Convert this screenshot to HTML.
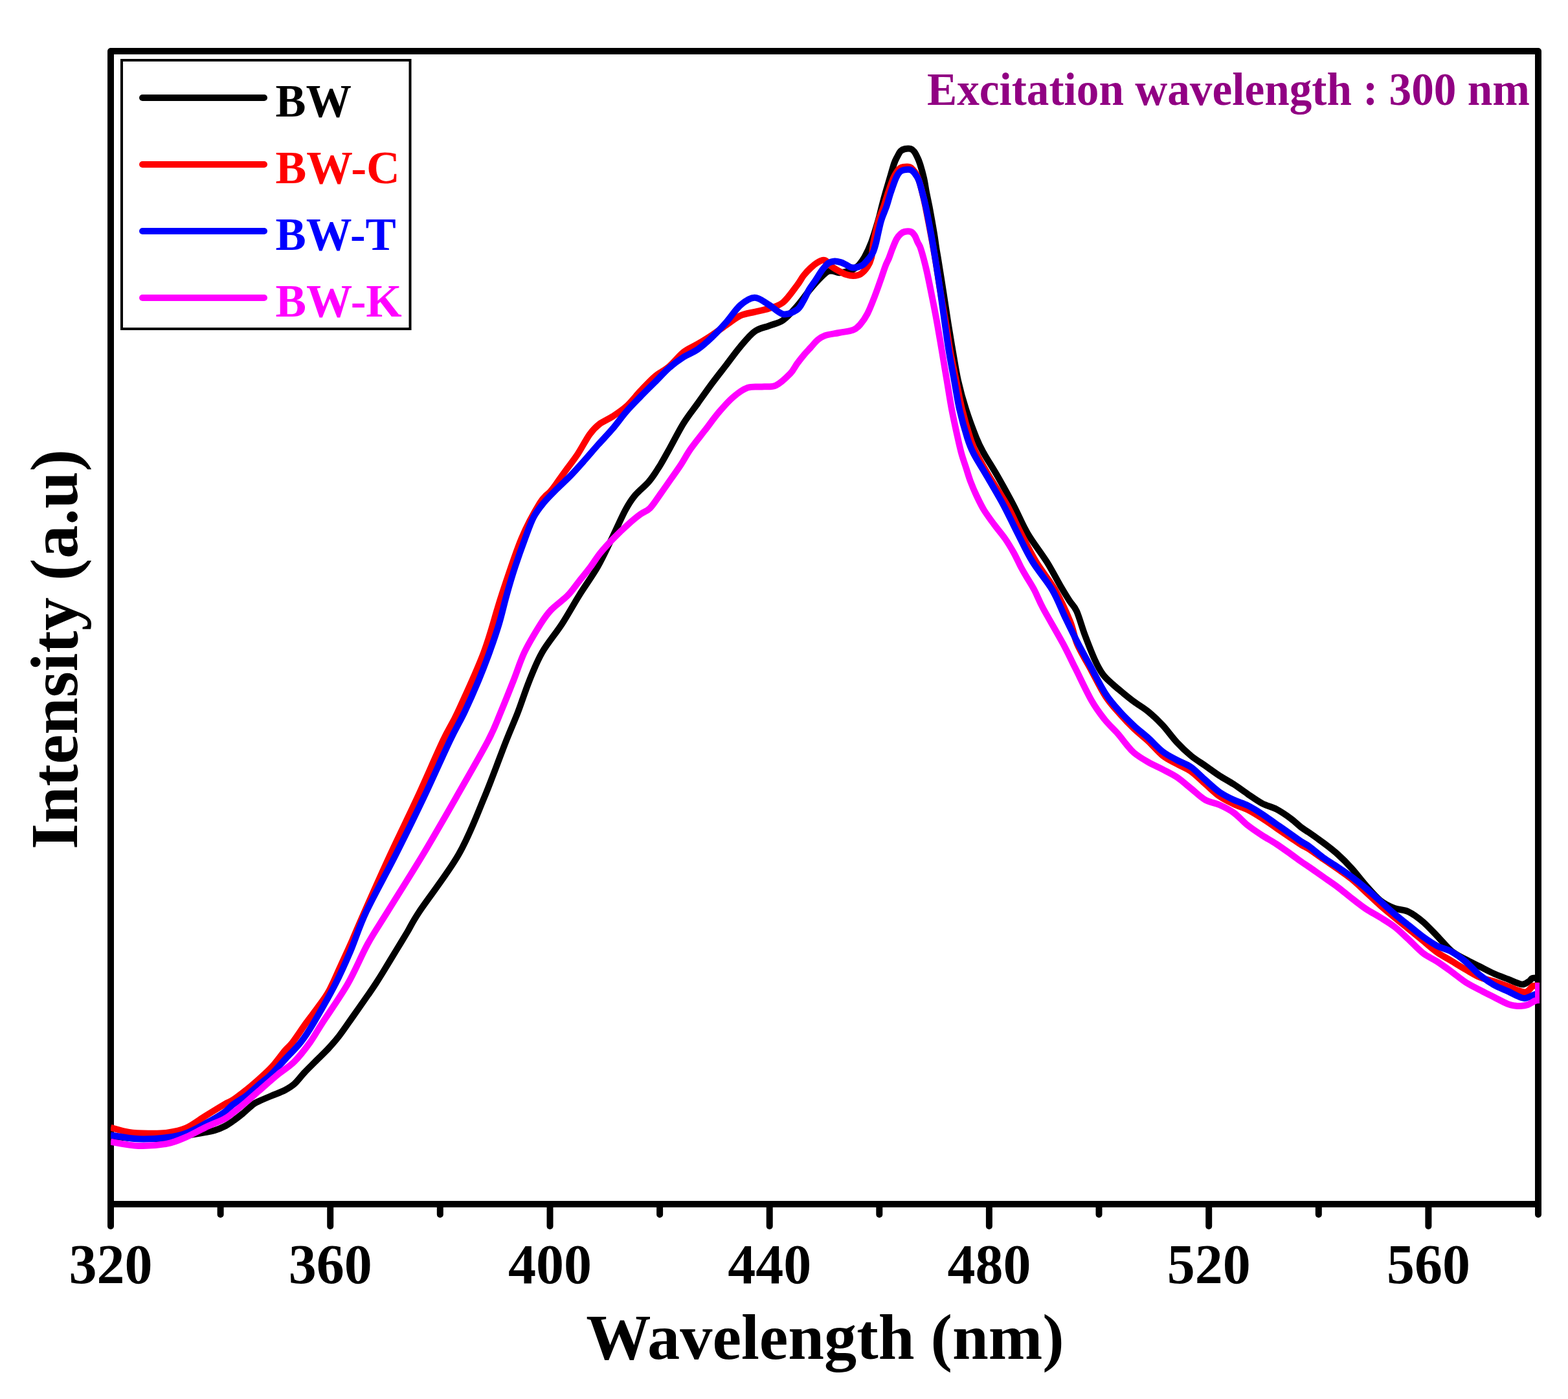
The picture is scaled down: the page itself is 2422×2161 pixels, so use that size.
<!DOCTYPE html>
<html><head><meta charset="utf-8"><style>
html,body{margin:0;padding:0;background:#fff;}
body{width:2422px;height:2161px;overflow:hidden;}
svg{display:block;}
text{font-family:"Liberation Serif","Times New Roman",serif;font-weight:bold;}
</style></head><body>
<svg xmlns="http://www.w3.org/2000/svg" width="2422" height="2161" viewBox="0 0 2422 2161">
<defs><clipPath id="pc"><rect x="171" y="60" width="2207" height="1805"/></clipPath></defs>
<rect width="2422" height="2161" fill="#fff"/>
<g stroke="#000" stroke-width="10" stroke-linecap="round"><line x1="171.0" y1="1860" x2="171.0" y2="1894"/><line x1="340.6" y1="1860" x2="340.6" y2="1876"/><line x1="510.2" y1="1860" x2="510.2" y2="1894"/><line x1="679.8" y1="1860" x2="679.8" y2="1876"/><line x1="849.5" y1="1860" x2="849.5" y2="1894"/><line x1="1019.1" y1="1860" x2="1019.1" y2="1876"/><line x1="1188.7" y1="1860" x2="1188.7" y2="1894"/><line x1="1358.3" y1="1860" x2="1358.3" y2="1876"/><line x1="1527.9" y1="1860" x2="1527.9" y2="1894"/><line x1="1697.5" y1="1860" x2="1697.5" y2="1876"/><line x1="1867.2" y1="1860" x2="1867.2" y2="1894"/><line x1="2036.8" y1="1860" x2="2036.8" y2="1876"/><line x1="2206.4" y1="1860" x2="2206.4" y2="1894"/><line x1="2376.0" y1="1860" x2="2376.0" y2="1876"/></g>
<rect x="171" y="79" width="2205" height="1781" fill="none" stroke="#000" stroke-width="10" stroke-linejoin="round"/>
<g fill="none" stroke-width="10" stroke-linecap="butt" stroke-linejoin="round" clip-path="url(#pc)">
<path d="M171.0,1755.0C175.8,1755.5 189.2,1757.3 200.0,1758.0C210.8,1758.7 224.3,1759.2 236.0,1759.0C247.7,1758.8 259.3,1758.2 270.0,1757.0C280.7,1755.8 292.2,1753.3 300.0,1752.0C307.8,1750.7 311.7,1750.0 317.0,1749.0C322.3,1748.0 326.9,1747.5 331.8,1746.0C336.7,1744.5 341.8,1742.4 346.5,1740.0C351.2,1737.6 355.2,1734.8 360.0,1731.5C364.8,1728.2 369.8,1724.2 375.0,1720.0C380.2,1715.8 386.8,1709.2 391.0,1706.0C395.2,1702.8 395.2,1703.3 400.0,1701.0C404.8,1698.7 413.3,1695.2 420.0,1692.4C426.7,1689.6 434.2,1687.1 440.0,1684.0C445.8,1680.9 450.0,1678.5 455.0,1674.0C460.0,1669.5 464.7,1662.7 470.0,1657.0C475.3,1651.3 480.7,1646.2 486.8,1640.0C492.9,1633.8 500.7,1626.7 506.9,1620.0C513.1,1613.3 517.6,1608.3 524.0,1600.0C530.4,1591.7 537.9,1580.5 545.3,1570.0C552.7,1559.5 562.6,1545.3 568.4,1537.0C574.2,1528.7 576.0,1526.2 580.0,1520.0C584.0,1513.8 587.3,1508.7 592.6,1500.0C597.9,1491.3 605.9,1478.0 612.0,1468.0C618.1,1458.0 623.0,1450.0 629.0,1440.0C635.0,1430.0 634.8,1427.7 648.0,1407.7C661.2,1387.7 691.8,1349.1 708.5,1319.8C725.2,1290.5 735.8,1261.2 748.0,1231.9C760.2,1202.6 773.3,1166.0 782.0,1144.0C790.7,1122.0 794.1,1115.4 800.0,1100.0C805.9,1084.6 811.4,1067.0 817.6,1051.6C823.8,1036.2 829.0,1022.4 837.4,1007.7C845.8,993.1 858.6,978.4 868.1,963.7C877.6,949.1 885.4,934.4 894.5,919.8C903.6,905.1 914.6,890.4 923.0,875.8C931.4,861.1 937.8,846.5 945.0,831.9C952.2,817.2 960.1,798.9 966.0,787.9C971.9,776.9 974.2,773.3 980.2,766.0C986.2,758.7 996.0,751.3 1002.2,744.0C1008.4,736.7 1012.6,729.8 1017.6,722.0C1022.6,714.2 1025.6,708.4 1032.0,697.0C1038.4,685.6 1048.2,666.1 1055.8,653.8C1063.4,641.5 1070.5,633.2 1077.8,623.0C1085.1,612.8 1092.5,602.2 1099.8,592.3C1107.1,582.4 1114.5,573.2 1121.8,563.7C1129.1,554.2 1136.4,543.8 1143.7,535.2C1151.0,526.6 1158.4,517.3 1165.7,512.0C1173.0,506.7 1180.4,506.2 1187.7,503.3C1195.0,500.4 1202.5,499.6 1209.7,494.5C1216.9,489.4 1223.8,481.2 1231.0,473.0C1238.2,464.8 1245.7,453.5 1253.0,445.0C1260.3,436.5 1269.7,426.4 1275.0,422.0C1280.3,417.6 1281.5,418.6 1285.0,418.5C1288.5,418.4 1292.3,421.1 1296.0,421.3C1299.7,421.5 1303.3,420.5 1307.0,419.6C1310.7,418.7 1314.7,417.8 1318.0,416.0C1321.3,414.2 1324.1,412.2 1327.0,409.0C1329.9,405.8 1332.3,402.8 1335.5,397.0C1338.7,391.2 1342.5,383.3 1346.0,374.0C1349.5,364.7 1353.7,350.2 1356.4,341.0C1359.1,331.8 1360.1,326.3 1362.0,319.0C1363.9,311.7 1365.9,304.3 1368.0,297.0C1370.1,289.7 1372.3,282.3 1374.5,275.0C1376.7,267.7 1379.1,258.5 1381.0,253.0C1382.9,247.5 1384.3,245.2 1386.0,242.0C1387.7,238.8 1389.0,235.5 1391.0,233.5C1393.0,231.5 1395.3,230.6 1398.0,230.0C1400.7,229.4 1404.7,229.3 1407.0,230.0C1409.3,230.7 1410.3,231.8 1412.0,234.0C1413.7,236.2 1415.5,239.8 1417.0,243.0C1418.5,246.2 1419.3,247.7 1421.0,253.0C1422.7,258.3 1425.3,267.7 1427.0,275.0C1428.7,282.3 1429.6,289.7 1431.0,297.0C1432.4,304.3 1434.1,311.7 1435.5,319.0C1436.9,326.3 1438.2,333.7 1439.5,341.0C1440.8,348.3 1442.1,355.7 1443.3,363.0C1444.5,370.3 1445.4,378.2 1446.5,385.0C1447.6,391.8 1448.0,393.2 1449.7,404.0C1451.5,414.8 1454.5,434.2 1457.0,450.0C1459.5,465.8 1462.0,483.3 1464.5,499.0C1467.0,514.7 1469.4,529.2 1472.0,544.0C1474.6,558.8 1476.7,573.3 1480.0,588.0C1483.3,602.7 1487.3,617.3 1492.0,632.0C1496.7,646.7 1503.5,664.8 1508.0,676.0C1512.5,687.2 1513.5,689.0 1519.0,699.0C1524.5,709.0 1533.3,722.3 1541.0,735.8C1548.7,749.3 1557.5,765.1 1565.2,779.8C1572.9,794.4 1578.5,809.1 1587.1,823.7C1595.7,838.4 1608.3,854.2 1616.8,867.7C1625.3,881.2 1632.1,895.0 1638.0,905.0C1643.9,915.0 1647.8,921.5 1652.0,928.0C1656.2,934.5 1659.0,935.2 1663.0,944.0C1667.0,952.8 1671.1,968.5 1675.8,981.0C1680.5,993.5 1686.4,1008.9 1691.0,1019.0C1695.6,1029.1 1699.0,1035.4 1703.6,1041.7C1708.2,1048.0 1713.9,1052.5 1718.8,1057.0C1723.7,1061.5 1727.5,1064.5 1733.0,1069.0C1738.5,1073.5 1745.1,1079.0 1751.9,1084.0C1758.7,1089.0 1766.5,1093.3 1773.8,1099.3C1781.1,1105.3 1788.5,1112.3 1795.8,1120.2C1803.1,1128.1 1810.5,1138.7 1817.8,1146.6C1825.1,1154.5 1832.5,1161.5 1839.8,1167.5C1847.1,1173.5 1854.5,1177.8 1861.8,1182.9C1869.1,1188.0 1876.4,1193.5 1883.7,1198.2C1891.0,1203.0 1898.4,1206.6 1905.7,1211.4C1913.0,1216.2 1920.4,1221.8 1927.7,1226.8C1935.0,1231.8 1942.4,1237.2 1949.7,1241.1C1957.0,1244.9 1964.3,1246.1 1971.6,1249.9C1978.9,1253.8 1987.2,1259.5 1993.6,1264.2C2000.0,1268.9 2005.3,1274.4 2010.0,1278.0C2014.7,1281.6 2016.3,1282.0 2022.0,1286.0C2027.7,1290.0 2036.7,1296.2 2044.0,1301.8C2051.3,1307.3 2058.6,1312.7 2065.9,1319.3C2073.2,1325.9 2080.6,1333.2 2087.9,1341.3C2095.2,1349.4 2102.6,1359.5 2109.9,1367.7C2117.2,1376.0 2124.6,1384.9 2131.9,1390.8C2139.2,1396.7 2146.5,1400.0 2153.8,1402.9C2161.1,1405.8 2168.5,1404.9 2175.8,1408.4C2183.1,1411.9 2190.5,1417.5 2197.8,1423.7C2205.1,1429.9 2212.5,1438.2 2219.8,1445.7C2227.1,1453.2 2234.5,1462.8 2241.8,1468.8C2249.1,1474.8 2256.4,1478.0 2263.7,1482.0C2271.0,1486.0 2278.4,1489.3 2285.7,1493.0C2293.0,1496.7 2300.4,1500.7 2307.7,1504.0C2315.0,1507.3 2323.6,1510.3 2329.7,1512.7C2335.8,1515.1 2340.1,1517.2 2344.0,1518.5C2347.9,1519.8 2349.9,1521.0 2353.0,1520.5C2356.1,1520.0 2360.0,1517.1 2362.3,1515.5C2364.6,1513.9 2364.4,1511.8 2367.0,1511.0C2369.6,1510.2 2376.2,1510.6 2378.0,1510.5" stroke="#000000"/>
<path d="M171.0,1741.8C175.7,1743.0 189.8,1747.5 199.4,1749.0C209.0,1750.5 219.0,1750.6 228.8,1750.7C238.6,1750.8 248.4,1751.1 258.2,1749.7C268.0,1748.3 277.8,1746.7 287.6,1742.4C297.4,1738.1 307.2,1730.1 317.0,1724.0C326.8,1717.9 339.3,1710.2 346.5,1706.0C353.7,1701.8 354.4,1702.7 360.0,1699.0C365.6,1695.3 373.3,1689.3 380.0,1684.0C386.7,1678.7 393.3,1673.0 400.0,1667.0C406.7,1661.0 413.3,1655.3 420.0,1648.0C426.7,1640.7 434.7,1629.3 440.0,1623.0C445.3,1616.7 446.5,1617.2 452.0,1610.0C457.5,1602.8 466.5,1589.0 473.0,1580.0C479.5,1571.0 485.2,1564.2 491.0,1556.0C496.8,1547.8 502.2,1541.6 508.0,1531.0C513.8,1520.4 520.0,1505.3 526.0,1492.3C532.0,1479.2 538.2,1465.9 544.0,1452.7C549.8,1439.5 551.2,1435.4 561.0,1413.2C570.8,1391.0 589.0,1350.0 603.0,1319.8C617.0,1289.6 631.2,1261.2 644.7,1231.9C658.2,1202.6 673.9,1166.0 684.3,1144.0C694.7,1122.0 696.5,1122.7 707.0,1100.0C717.5,1077.3 736.0,1037.7 747.3,1007.7C758.6,977.7 765.0,949.1 774.7,919.8C784.4,890.5 795.6,855.7 805.5,831.9C815.4,808.1 826.5,789.1 834.0,776.9C841.5,764.7 846.0,764.3 850.8,758.5C855.6,752.7 858.9,747.6 863.0,742.0C867.1,736.4 870.5,731.4 875.4,724.6C880.3,717.9 886.4,710.4 892.3,701.5C898.2,692.6 905.2,678.8 910.8,671.0C916.4,663.2 920.1,659.6 926.0,655.0C931.9,650.4 939.0,648.1 946.0,643.5C953.0,638.9 960.6,634.2 967.9,627.5C975.2,620.8 982.6,611.0 989.9,603.3C997.2,595.6 1004.6,587.5 1011.9,581.3C1019.2,575.1 1026.5,572.2 1033.8,566.0C1041.1,559.8 1048.5,549.8 1055.8,544.0C1063.1,538.2 1070.5,535.8 1077.8,531.4C1085.1,527.0 1092.5,522.5 1099.8,517.6C1107.1,512.7 1114.5,507.2 1121.8,502.2C1129.1,497.2 1136.4,490.9 1143.7,487.5C1151.0,484.1 1158.4,483.6 1165.7,481.8C1173.0,480.0 1180.4,479.0 1187.7,476.5C1195.0,474.0 1202.5,472.9 1209.7,467.0C1216.9,461.1 1225.8,447.8 1231.0,441.0C1236.2,434.2 1237.5,430.5 1241.0,426.0C1244.5,421.5 1248.3,417.4 1252.0,414.0C1255.7,410.6 1259.3,407.3 1263.0,405.3C1266.7,403.3 1270.3,400.9 1274.0,402.0C1277.7,403.1 1281.3,409.2 1285.0,412.0C1288.7,414.8 1292.3,416.6 1296.0,418.6C1299.7,420.6 1303.3,422.8 1307.0,424.0C1310.7,425.2 1314.3,426.1 1318.0,426.0C1321.7,425.9 1325.3,425.8 1329.0,423.5C1332.7,421.2 1337.2,416.2 1340.0,412.0C1342.8,407.8 1344.4,404.3 1346.0,398.0C1347.6,391.7 1347.6,383.5 1349.4,374.0C1351.2,364.5 1354.4,350.2 1357.0,341.0C1359.6,331.8 1362.5,326.3 1365.0,319.0C1367.5,311.7 1369.5,304.3 1372.0,297.0C1374.5,289.7 1377.8,280.3 1380.0,275.0C1382.2,269.7 1383.8,267.5 1385.5,265.0C1387.2,262.5 1388.4,261.2 1390.0,260.0C1391.6,258.8 1392.5,258.3 1395.0,258.0C1397.5,257.7 1402.4,257.2 1405.0,258.0C1407.6,258.8 1408.8,260.8 1410.5,262.5C1412.2,264.2 1413.5,265.8 1415.0,268.5C1416.5,271.2 1418.0,274.6 1419.5,279.0C1421.0,283.4 1422.3,288.3 1424.0,295.0C1425.7,301.7 1427.2,307.7 1429.5,319.0C1431.8,330.3 1435.3,348.7 1438.0,363.0C1440.7,377.3 1443.1,390.5 1445.5,405.0C1447.9,419.5 1449.9,434.3 1452.5,450.0C1455.1,465.7 1458.4,483.3 1461.0,499.0C1463.6,514.7 1465.3,529.2 1468.0,544.0C1470.7,558.8 1474.0,573.3 1477.0,588.0C1480.0,602.7 1482.4,617.3 1486.0,632.0C1489.6,646.7 1494.8,664.7 1498.5,676.0C1502.2,687.3 1503.1,690.0 1508.0,700.0C1512.9,710.0 1520.1,722.5 1528.0,735.8C1535.9,749.1 1547.1,765.1 1555.3,779.8C1563.5,794.4 1569.5,809.1 1577.0,823.7C1584.5,838.4 1591.5,853.1 1600.3,867.7C1609.1,882.4 1621.2,896.2 1630.0,911.6C1638.8,927.0 1647.3,946.1 1653.0,960.0C1658.7,973.9 1658.5,982.3 1664.0,995.0C1669.5,1007.7 1678.7,1022.5 1686.0,1036.0C1693.3,1049.5 1700.6,1064.8 1707.9,1076.0C1715.2,1087.2 1722.6,1094.7 1729.9,1103.0C1737.2,1111.3 1744.6,1119.0 1751.9,1126.0C1759.2,1133.0 1766.5,1138.2 1773.8,1145.0C1781.1,1151.8 1788.5,1161.2 1795.8,1167.0C1803.1,1172.8 1810.5,1175.9 1817.8,1180.0C1825.1,1184.1 1832.5,1186.4 1839.8,1191.6C1847.1,1196.8 1854.5,1204.6 1861.8,1211.0C1869.1,1217.4 1876.4,1224.8 1883.7,1230.0C1891.0,1235.2 1898.4,1238.5 1905.7,1242.0C1913.0,1245.5 1920.4,1247.3 1927.7,1251.0C1935.0,1254.7 1942.4,1259.3 1949.7,1264.0C1957.0,1268.7 1964.3,1274.0 1971.6,1279.0C1978.9,1284.0 1987.2,1289.7 1993.6,1294.0C2000.0,1298.3 2005.3,1302.1 2010.0,1305.0C2014.7,1307.9 2016.3,1307.9 2022.0,1311.6C2027.7,1315.3 2036.7,1321.9 2044.0,1327.0C2051.3,1332.1 2058.6,1336.8 2065.9,1342.0C2073.2,1347.2 2080.6,1352.0 2087.9,1358.0C2095.2,1364.0 2102.6,1371.2 2109.9,1378.0C2117.2,1384.8 2124.6,1392.0 2131.9,1398.5C2139.2,1405.0 2146.5,1410.9 2153.8,1417.0C2161.1,1423.1 2168.5,1429.0 2175.8,1435.0C2183.1,1441.0 2190.5,1447.0 2197.8,1453.0C2205.1,1459.0 2212.5,1465.8 2219.8,1471.0C2227.1,1476.2 2234.5,1479.8 2241.8,1484.2C2249.1,1488.6 2256.4,1493.2 2263.7,1497.4C2271.0,1501.6 2278.4,1506.4 2285.7,1509.5C2293.0,1512.6 2300.4,1513.6 2307.7,1516.0C2315.0,1518.4 2323.5,1521.4 2329.7,1523.7C2335.9,1526.0 2340.5,1528.5 2345.0,1530.0C2349.5,1531.5 2353.5,1532.8 2356.5,1532.5C2359.5,1532.2 2361.1,1529.6 2363.0,1528.0C2364.9,1526.4 2365.5,1523.9 2368.0,1523.0C2370.5,1522.1 2376.3,1522.6 2378.0,1522.5" stroke="#ff0000"/>
<path d="M171.0,1753.4C178.2,1754.4 199.5,1758.7 214.0,1759.3C228.5,1759.9 245.7,1758.5 258.0,1757.0C270.3,1755.5 277.8,1754.0 287.6,1750.4C297.4,1746.9 307.2,1741.1 317.0,1735.7C326.8,1730.3 339.3,1723.0 346.5,1718.0C353.7,1713.0 354.4,1710.2 360.0,1706.0C365.6,1701.8 373.3,1698.1 380.0,1693.0C386.7,1687.9 393.6,1681.0 400.0,1675.5C406.4,1670.0 411.6,1666.8 418.5,1660.0C425.4,1653.2 433.8,1643.3 441.5,1635.0C449.2,1626.7 457.4,1619.2 464.6,1610.0C471.8,1600.8 475.6,1595.0 484.5,1580.0C493.4,1565.0 508.6,1538.3 518.0,1520.0C527.4,1501.7 533.0,1488.7 541.0,1470.0C549.0,1451.3 554.2,1432.7 566.0,1407.7C577.8,1382.7 596.8,1349.1 611.5,1319.8C626.2,1290.5 640.6,1261.2 654.5,1231.9C668.4,1202.6 684.5,1166.0 695.0,1144.0C705.5,1122.0 710.2,1115.4 717.5,1100.0C724.8,1084.6 732.6,1067.0 739.0,1051.6C745.4,1036.2 750.7,1022.4 756.0,1007.7C761.3,993.1 766.4,978.4 770.8,963.7C775.2,949.1 778.3,934.4 782.4,919.8C786.5,905.1 790.8,890.4 795.6,875.8C800.4,861.1 806.2,844.7 811.0,831.9C815.8,819.1 819.4,808.1 824.2,798.9C829.0,789.7 833.6,784.2 839.6,776.9C845.6,769.6 853.3,762.1 860.4,755.0C867.5,747.9 875.1,741.2 882.0,734.0C888.9,726.8 895.0,719.9 902.0,712.0C909.0,704.1 916.7,695.0 924.0,686.8C931.3,678.6 938.7,671.2 946.0,662.6C953.3,654.0 960.6,643.6 967.9,635.2C975.2,626.8 982.6,619.5 989.9,612.0C997.2,604.5 1004.6,597.3 1011.9,590.0C1019.2,582.7 1026.5,574.4 1033.8,568.0C1041.1,561.6 1048.5,556.3 1055.8,551.6C1063.1,546.9 1070.5,544.7 1077.8,539.6C1085.1,534.5 1092.5,527.9 1099.8,520.9C1107.1,513.9 1114.5,506.1 1121.8,497.8C1129.1,489.6 1136.4,477.7 1143.7,471.4C1151.0,465.1 1158.4,459.9 1165.7,459.8C1173.0,459.7 1180.4,466.6 1187.7,470.8C1195.0,475.1 1202.5,484.0 1209.7,485.3C1216.9,486.6 1225.8,481.9 1231.0,478.5C1236.2,475.1 1237.8,469.9 1241.0,464.6C1244.2,459.4 1246.9,452.3 1250.0,447.0C1253.1,441.7 1256.5,437.7 1259.8,432.7C1263.1,427.7 1266.7,421.4 1270.0,417.0C1273.3,412.6 1276.4,408.7 1279.6,406.4C1282.8,404.1 1286.1,403.6 1289.4,403.4C1292.7,403.2 1296.4,404.5 1299.3,405.4C1302.2,406.3 1304.2,407.7 1307.0,409.0C1309.8,410.3 1312.7,412.8 1315.8,413.3C1318.9,413.9 1322.8,413.0 1325.7,412.3C1328.6,411.6 1330.8,410.6 1333.0,409.0C1335.2,407.4 1337.1,405.0 1338.9,403.0C1340.7,401.0 1342.3,399.3 1344.0,397.0C1345.7,394.7 1347.2,392.8 1348.8,389.0C1350.4,385.2 1351.4,382.0 1353.4,374.0C1355.4,366.0 1358.3,350.2 1361.0,341.0C1363.7,331.8 1366.8,326.3 1369.3,319.0C1371.8,311.7 1373.5,304.3 1376.0,297.0C1378.5,289.7 1381.7,280.2 1384.0,275.0C1386.3,269.8 1387.8,267.6 1390.0,265.5C1392.2,263.4 1394.2,262.9 1397.0,262.4C1399.8,261.9 1404.3,261.5 1407.0,262.4C1409.7,263.3 1411.0,265.4 1413.0,268.0C1415.0,270.6 1417.2,273.5 1419.0,278.0C1420.8,282.5 1422.2,288.2 1424.0,295.0C1425.8,301.8 1427.6,307.7 1430.0,319.0C1432.4,330.3 1435.9,348.7 1438.5,363.0C1441.1,377.3 1443.2,390.5 1445.5,405.0C1447.8,419.5 1450.2,434.2 1452.5,450.0C1454.8,465.8 1457.2,484.3 1459.5,500.0C1461.8,515.7 1463.6,529.3 1466.0,544.0C1468.4,558.7 1471.3,573.3 1474.0,588.0C1476.7,602.7 1478.7,617.3 1482.0,632.0C1485.3,646.7 1490.4,664.7 1494.0,676.0C1497.6,687.3 1498.4,690.0 1503.5,700.0C1508.6,710.0 1516.8,722.5 1524.5,735.8C1532.2,749.1 1541.9,765.1 1549.8,779.8C1557.7,794.4 1564.3,809.1 1571.8,823.7C1579.3,838.4 1585.8,853.1 1594.8,867.7C1603.8,882.4 1617.2,897.4 1625.6,911.6C1634.0,925.8 1638.6,939.7 1645.0,953.0C1651.4,966.3 1657.2,978.4 1664.0,991.6C1670.8,1004.8 1678.7,1018.9 1686.0,1032.3C1693.3,1045.7 1700.6,1060.7 1707.9,1071.9C1715.2,1083.1 1722.6,1091.1 1729.9,1099.3C1737.2,1107.5 1744.6,1114.5 1751.9,1121.3C1759.2,1128.1 1766.5,1133.4 1773.8,1140.0C1781.1,1146.6 1788.5,1155.2 1795.8,1160.9C1803.1,1166.6 1810.5,1170.0 1817.8,1174.0C1825.1,1178.0 1832.5,1179.9 1839.8,1185.0C1847.1,1190.1 1854.5,1198.4 1861.8,1204.8C1869.1,1211.2 1876.4,1218.4 1883.7,1223.5C1891.0,1228.6 1898.4,1232.1 1905.7,1235.6C1913.0,1239.1 1920.4,1240.7 1927.7,1244.4C1935.0,1248.1 1942.4,1252.8 1949.7,1257.6C1957.0,1262.4 1964.3,1267.9 1971.6,1273.0C1978.9,1278.1 1987.2,1283.9 1993.6,1288.4C2000.0,1292.9 2005.3,1296.8 2010.0,1300.0C2014.7,1303.2 2016.3,1303.2 2022.0,1307.3C2027.7,1311.4 2036.7,1319.5 2044.0,1324.8C2051.3,1330.1 2058.6,1334.1 2065.9,1339.1C2073.2,1344.0 2080.6,1349.0 2087.9,1354.5C2095.2,1360.0 2102.6,1365.9 2109.9,1372.1C2117.2,1378.3 2124.6,1385.3 2131.9,1391.9C2139.2,1398.5 2146.5,1405.4 2153.8,1411.6C2161.1,1417.8 2168.5,1423.3 2175.8,1429.2C2183.1,1435.1 2190.5,1441.5 2197.8,1446.8C2205.1,1452.1 2212.5,1457.2 2219.8,1461.1C2227.1,1464.9 2234.5,1465.9 2241.8,1469.9C2249.1,1473.9 2256.4,1479.2 2263.7,1485.3C2271.0,1491.3 2278.4,1500.2 2285.7,1506.2C2293.0,1512.2 2300.4,1517.3 2307.7,1521.5C2315.0,1525.7 2323.5,1528.5 2329.7,1531.4C2335.9,1534.3 2340.8,1537.2 2345.0,1539.0C2349.2,1540.8 2351.8,1541.8 2354.6,1542.0C2357.4,1542.2 2359.3,1541.0 2362.0,1540.0C2364.7,1539.0 2368.3,1536.8 2371.0,1536.0C2373.7,1535.2 2376.8,1535.6 2378.0,1535.5" stroke="#0000ff"/>
<path d="M171.0,1763.7C178.2,1764.8 199.5,1769.5 214.0,1770.0C228.5,1770.5 245.7,1768.9 258.0,1766.6C270.3,1764.3 277.8,1760.5 287.6,1756.3C297.4,1752.1 307.2,1746.2 317.0,1741.6C326.8,1736.9 339.3,1732.2 346.5,1728.4C353.7,1724.6 354.4,1723.1 360.0,1718.8C365.6,1714.5 373.3,1708.1 380.0,1702.5C386.7,1696.9 391.8,1692.1 400.0,1685.0C408.2,1677.9 419.9,1667.5 429.0,1660.0C438.1,1652.5 446.2,1648.3 454.5,1640.0C462.8,1631.7 471.8,1620.0 479.0,1610.0C486.2,1600.0 488.3,1595.0 498.0,1580.0C507.7,1565.0 525.3,1540.3 537.0,1520.0C548.7,1499.7 557.7,1476.7 568.0,1458.0C578.3,1439.3 584.8,1430.7 599.0,1407.7C613.2,1384.7 635.9,1349.1 653.5,1319.8C671.1,1290.5 687.8,1261.2 704.5,1231.9C721.2,1202.6 742.5,1166.0 754.0,1144.0C765.5,1122.0 767.0,1115.4 773.5,1100.0C780.0,1084.6 786.9,1067.0 793.0,1051.6C799.1,1036.2 803.0,1022.4 810.0,1007.7C817.0,993.1 828.3,974.7 835.2,963.7C842.1,952.7 844.7,949.1 851.6,941.8C858.5,934.5 869.8,927.1 876.9,919.8C884.0,912.5 888.6,905.1 894.5,897.8C900.4,890.5 906.5,883.1 912.0,875.8C917.5,868.5 921.6,861.1 927.5,853.8C933.4,846.5 940.2,839.2 947.3,831.9C954.4,824.6 963.3,816.1 970.3,809.9C977.2,803.7 983.4,798.6 989.0,794.5C994.6,790.4 998.7,790.4 1004.0,785.0C1009.3,779.6 1015.5,769.5 1020.9,762.0C1026.3,754.5 1031.2,747.3 1036.3,740.0C1041.4,732.7 1046.5,725.8 1051.6,718.0C1056.7,710.2 1060.6,702.3 1066.8,693.4C1073.0,684.5 1081.5,674.3 1088.8,664.8C1096.1,655.3 1103.5,644.9 1110.8,636.3C1118.1,627.7 1125.4,619.4 1132.7,613.2C1140.0,607.0 1147.4,601.5 1154.7,598.9C1162.0,596.3 1169.4,598.0 1176.7,597.4C1184.0,596.8 1191.4,598.6 1198.7,595.2C1206.0,591.8 1215.3,582.5 1220.7,577.0C1226.1,571.5 1227.5,566.8 1231.0,562.0C1234.5,557.2 1238.5,552.2 1242.0,548.0C1245.5,543.8 1248.5,540.8 1252.0,537.0C1255.5,533.2 1259.3,528.1 1263.0,525.0C1266.7,521.9 1268.5,520.3 1274.0,518.5C1279.5,516.7 1288.7,515.5 1296.0,514.0C1303.3,512.5 1312.5,511.9 1318.0,509.7C1323.5,507.5 1325.3,505.1 1329.0,500.9C1332.7,496.7 1336.3,491.5 1340.0,484.4C1343.7,477.2 1347.3,467.5 1351.0,458.0C1354.7,448.5 1359.2,435.3 1362.0,427.3C1364.8,419.3 1366.2,414.7 1368.0,410.0C1369.8,405.3 1371.2,403.3 1373.0,399.0C1374.8,394.7 1376.5,389.0 1378.5,384.0C1380.5,379.0 1382.9,372.8 1385.0,369.0C1387.1,365.2 1389.0,363.3 1391.0,361.5C1393.0,359.7 1394.3,358.6 1397.0,358.0C1399.7,357.4 1404.3,357.0 1407.0,358.0C1409.7,359.0 1411.2,361.2 1413.0,364.0C1414.8,366.8 1416.0,371.0 1417.6,374.5C1419.2,378.0 1420.2,377.8 1422.5,385.0C1424.8,392.2 1428.4,405.5 1431.3,418.0C1434.2,430.5 1437.3,446.5 1440.0,460.0C1442.7,473.5 1445.0,485.0 1447.5,499.0C1450.0,513.0 1452.7,529.2 1455.2,544.0C1457.7,558.8 1460.1,573.3 1462.6,588.0C1465.1,602.7 1467.2,617.3 1470.0,632.0C1472.8,646.7 1476.8,664.7 1479.3,676.0C1481.8,687.3 1482.9,692.3 1485.0,700.0C1487.1,707.7 1489.6,714.7 1492.0,722.0C1494.4,729.3 1496.4,736.7 1499.2,744.0C1502.0,751.3 1505.1,758.7 1508.6,766.0C1512.1,773.3 1515.5,780.7 1520.0,788.0C1524.5,795.3 1530.1,802.7 1535.5,810.0C1540.9,817.3 1547.4,824.7 1552.5,832.0C1557.6,839.3 1561.9,846.7 1566.0,854.0C1570.1,861.3 1573.8,870.0 1577.0,876.0C1580.2,882.0 1581.5,884.0 1585.0,890.0C1588.5,896.0 1593.6,903.7 1598.0,912.0C1602.4,920.3 1604.1,926.4 1611.4,940.0C1618.7,953.6 1633.5,978.4 1641.7,993.7C1649.9,1009.0 1653.3,1016.9 1660.7,1031.6C1668.1,1046.3 1678.5,1068.8 1686.0,1082.0C1693.5,1095.2 1699.3,1102.5 1706.0,1111.0C1712.7,1119.5 1720.7,1126.5 1726.4,1133.0C1732.1,1139.5 1735.8,1145.0 1740.0,1150.0C1744.2,1155.0 1746.3,1158.4 1751.9,1163.0C1757.5,1167.6 1766.5,1173.2 1773.8,1177.4C1781.1,1181.6 1788.5,1184.6 1795.8,1188.4C1803.1,1192.2 1810.5,1195.5 1817.8,1200.4C1825.1,1205.3 1832.5,1212.1 1839.8,1218.0C1847.1,1223.9 1854.5,1231.4 1861.8,1235.6C1869.1,1239.8 1876.4,1240.0 1883.7,1243.3C1891.0,1246.6 1898.4,1250.1 1905.7,1255.4C1913.0,1260.7 1920.4,1269.4 1927.7,1275.2C1935.0,1281.0 1942.4,1285.8 1949.7,1290.5C1957.0,1295.2 1964.3,1298.9 1971.6,1303.7C1978.9,1308.5 1987.2,1314.5 1993.6,1319.1C2000.0,1323.6 2005.3,1327.7 2010.0,1331.0C2014.7,1334.3 2016.3,1335.2 2022.0,1339.1C2027.7,1343.0 2036.7,1349.4 2044.0,1354.5C2051.3,1359.6 2058.6,1364.4 2065.9,1369.9C2073.2,1375.4 2080.6,1381.8 2087.9,1387.5C2095.2,1393.2 2102.6,1399.1 2109.9,1404.0C2117.2,1408.9 2124.6,1412.5 2131.9,1417.1C2139.2,1421.7 2146.5,1425.7 2153.8,1431.4C2161.1,1437.1 2168.5,1444.4 2175.8,1451.2C2183.1,1458.0 2190.5,1466.4 2197.8,1472.1C2205.1,1477.8 2212.5,1480.5 2219.8,1485.3C2227.1,1490.1 2234.5,1495.4 2241.8,1500.7C2249.1,1506.0 2256.4,1512.3 2263.7,1517.1C2271.0,1521.8 2278.4,1525.3 2285.7,1529.2C2293.0,1533.1 2300.4,1536.5 2307.7,1540.2C2315.0,1543.9 2324.3,1549.0 2329.7,1551.2C2335.1,1553.4 2336.8,1553.0 2340.0,1553.5C2343.2,1554.0 2345.7,1554.2 2349.0,1554.0C2352.3,1553.8 2356.3,1553.3 2360.0,1552.0C2363.7,1550.7 2368.0,1547.2 2371.0,1546.0C2374.0,1544.8 2376.8,1545.2 2378.0,1545.0" stroke="#ff00ff"/>
<rect x="2371" y="1518" width="7" height="31" fill="#ff00ff"/>
</g>
<rect x="188" y="93" width="445.5" height="415" fill="none" stroke="#000" stroke-width="4"/>
<g stroke-width="10" stroke-linecap="round"><line x1="220" y1="151" x2="408" y2="151" stroke="#000000"/><text font-size="72" x="425.5" y="180" fill="#000000" textLength="117.5" lengthAdjust="spacingAndGlyphs">BW</text><line x1="220" y1="254" x2="408" y2="254" stroke="#ff0000"/><text font-size="72" x="425.5" y="283" fill="#ff0000" textLength="192.3" lengthAdjust="spacingAndGlyphs">BW-C</text><line x1="220" y1="357" x2="408" y2="357" stroke="#0000ff"/><text font-size="72" x="425.5" y="386" fill="#0000ff" textLength="186.3" lengthAdjust="spacingAndGlyphs">BW-T</text><line x1="220" y1="460" x2="408" y2="460" stroke="#ff00ff"/><text font-size="72" x="425.5" y="489" fill="#ff00ff" textLength="195.3" lengthAdjust="spacingAndGlyphs">BW-K</text></g>
<g font-size="86" fill="#000"><text x="171.0" y="1982" text-anchor="middle">320</text><text x="510.2" y="1982" text-anchor="middle">360</text><text x="849.5" y="1982" text-anchor="middle">400</text><text x="1188.7" y="1982" text-anchor="middle">440</text><text x="1527.9" y="1982" text-anchor="middle">480</text><text x="1867.2" y="1982" text-anchor="middle">520</text><text x="2206.4" y="1982" text-anchor="middle">560</text></g>
<text x="1432" y="162" font-size="72" fill="#910083" textLength="931" lengthAdjust="spacingAndGlyphs">Excitation wavelength : 300 nm</text>
<text x="1274.5" y="2099" font-size="100.3" text-anchor="middle">Wavelength (nm)</text>
<text transform="translate(119,1003) rotate(-90)" font-size="103" text-anchor="middle">Intensity (a.u)</text>
</svg>
</body></html>
